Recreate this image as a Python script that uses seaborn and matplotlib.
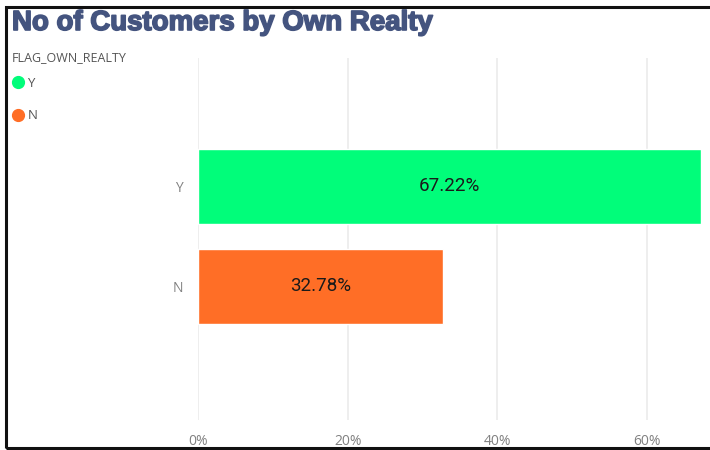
import matplotlib
matplotlib.use("Agg")
import matplotlib.pyplot as plt
import matplotlib.patheffects as pe
from matplotlib.patches import Rectangle
from matplotlib.lines import Line2D
from matplotlib.ticker import FuncFormatter
import seaborn as sns
import pandas as pd

# Share of customers by realty ownership flag
categories = ["Y", "N"]
shares = [67.22, 32.78]
colors = ["#01FD7A", "#FF6E26"]
xticks = [0, 20, 40, 60]

df = pd.DataFrame({"FLAG_OWN_REALTY": categories, "share": shares})

sns.set_theme(style="white")
plt.rcParams["font.family"] = ["Open Sans", "DejaVu Sans"]

fig = plt.figure(figsize=(7.1, 4.5), dpi=100)
ax = fig.add_axes([198 / 710, 1 - 420 / 450, (701 - 198) / 710, (420 - 58) / 450])

sns.barplot(data=df, y="FLAG_OWN_REALTY", x="share", hue="FLAG_OWN_REALTY",
            palette=dict(zip(categories, colors)), order=categories,
            orient="h", width=0.75, legend=False, ax=ax, saturation=1)

ax.set_xlim(0, max(shares))
ax.set_ylim(2.34, -1.28)
ax.set_xticks(xticks)
ax.xaxis.set_major_formatter(FuncFormatter(lambda v, p: f"{v:.0f}%"))
ax.grid(axis="x", color="#EBEBEB", linewidth=1.2)
ax.set_axisbelow(True)
for s in ax.spines.values():
    s.set_visible(False)
ax.set_xlabel("")
ax.set_ylabel("")
ax.tick_params(axis="x", colors="#808080", labelsize=10, length=0, pad=10)
ax.tick_params(axis="y", colors="#808080", labelsize=10, length=0, pad=11)

for bar, val in zip(ax.patches, shares):
    ax.text(bar.get_x() + bar.get_width() / 2, bar.get_y() + bar.get_height() / 2,
            f"{val:.2f}%", ha="center", va="center", fontsize=13.5,
            color="#1A1A1A", family=["Roboto", "DejaVu Sans"])

# Title
fig.text(12 / 710, 1 - 23 / 450, "No of Customers by Own Realty", ha="left", va="center",
         fontsize=19.9, fontweight="bold", color="#44547F",
         family=["Liberation Sans", "DejaVu Sans"],
         path_effects=[pe.withStroke(linewidth=1.2, foreground="#44547F")])

# Legend: heading plus one dot per category
fig.text(12 / 710, 1 - 58 / 450, "FLAG_OWN_REALTY", ha="left", va="center",
         fontsize=9, color="#555555")
handles = [Line2D([], [], marker="o", linestyle="", markersize=8.5,
                  markerfacecolor=c, markeredgecolor=c) for c in colors]
leg = fig.legend(handles, categories, loc="upper left",
                 bbox_to_anchor=(9 / 710, 1 - 77 / 450), frameon=False,
                 fontsize=9.5, handletextpad=0.1, labelspacing=1.45,
                 borderaxespad=0, borderpad=0, handlelength=1.3)
for t in leg.get_texts():
    t.set_color("#555555")

# Frame around the visual
fig.patches.append(Rectangle((6 / 710, 2 / 450), 712 / 710, 441 / 450,
                             transform=fig.transFigure, fill=False,
                             edgecolor="#111111", linewidth=2.2))

fig.savefig("out.png", dpi=100)
